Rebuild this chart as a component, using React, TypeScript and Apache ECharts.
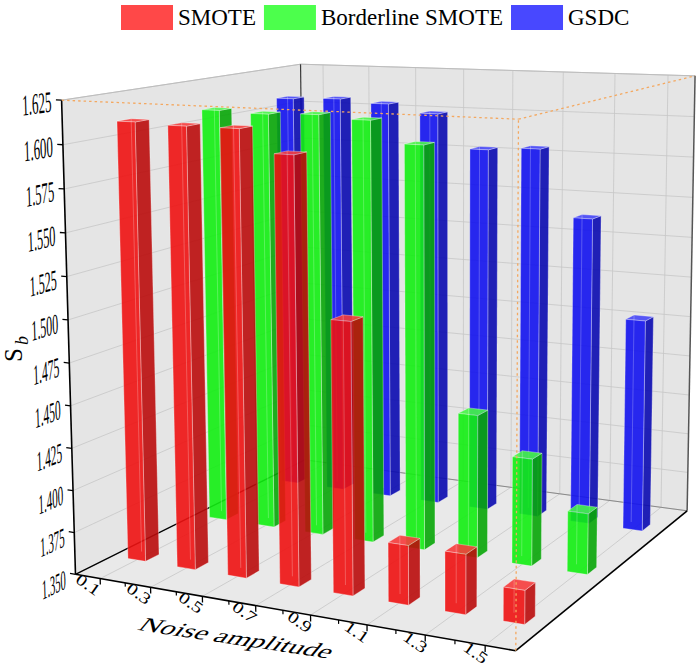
import React, { useEffect, useRef } from 'react';
import * as echarts from 'echarts';

// ---------------- data ----------------
const noiseAmplitudes = [0.1, 0.3, 0.5, 0.7, 0.9, 1.1, 1.3, 1.5];
const xTickLabels = ['0.1', '0.3', '0.5', '0.7', '0.9', '1.1', '1.3', '1.5'];
const xMinorTicks = [0.2, 0.4, 0.6, 0.8, 1.0, 1.2, 1.4];
const yTickValues = [1.35, 1.375, 1.4, 1.425, 1.45, 1.475, 1.5, 1.525, 1.55, 1.575, 1.6, 1.625];
const yTickLabels = ['1.350', '1.375', '1.400', '1.425', '1.450', '1.475', '1.500', '1.525', '1.550', '1.575', '1.600', '1.625'];
const seriesNames = ['SMOTE', 'Borderline SMOTE', 'GSDC'];
const smoteValues = [1.61, 1.609, 1.609, 1.596, 1.506, 1.384, 1.384, 1.369];
const borderlineValues = [1.608, 1.607, 1.608, 1.606, 1.593, 1.436, 1.414, 1.386];
const gsdcValues = [1.607, 1.608, 1.606, 1.601, 1.58, 1.582, 1.541, 1.481];
const seriesRows = [1, 2, 3];

// ---------------- layout ----------------
const X_RANGE = [0, 1.6];
const Y_RANGE = [1.35, 1.625];
const DEPTH_RANGE = [0.51, 3.49];
const BAR_WIDTH = 0.072;
const BAR_DEPTH = 0.053;
const FONT = "'Liberation Serif', 'Times New Roman', Times, serif";

const BOX_3D = [
  [0, 0, 0], [1, 0, 0], [0, 1, 0], [1, 1, 0],
  [0, 0, 1], [1, 0, 1], [0, 1, 1], [1, 1, 1],
];
const BOX_SCREEN = [
  [78, 578], [516, 649], [302, 457], [688, 512],
  [61, 99], [516, 118], [302, 65], [696, 77],
];

const LEGEND_COLORS = ['rgb(255,72,72)', 'rgb(76,255,76)', 'rgb(72,72,255)'];
const PALETTES = [
  { front: 'rgb(238,18,18)', side: 'rgb(186,12,12)', top: 'rgb(246,60,60)' },
  { front: 'rgb(18,238,18)', side: 'rgb(8,166,8)', top: 'rgb(70,246,70)' },
  { front: 'rgb(18,18,238)', side: 'rgb(10,10,176)', top: 'rgb(70,70,246)' },
];

function solveProjection(): number[] {
  const n = 11;
  const M: number[][] = Array.from({ length: n }, () => new Array(n + 1).fill(0));
  const add = (r: number[], b: number) => {
    for (let i = 0; i < n; i++) {
      for (let j = 0; j < n; j++) M[i][j] += r[i] * r[j];
      M[i][n] += r[i] * b;
    }
  };
  BOX_3D.forEach(([X, Y, Z], k) => {
    const [x, y] = BOX_SCREEN[k];
    add([X, Y, Z, 1, 0, 0, 0, 0, -x * X, -x * Y, -x * Z], x);
    add([0, 0, 0, 0, X, Y, Z, 1, -y * X, -y * Y, -y * Z], y);
  });
  for (let c = 0; c < n; c++) {
    let piv = c;
    for (let r = c + 1; r < n; r++) if (Math.abs(M[r][c]) > Math.abs(M[piv][c])) piv = r;
    const tmp = M[c]; M[c] = M[piv]; M[piv] = tmp;
    for (let r = 0; r < n; r++) {
      if (r === c) continue;
      const f = M[r][c] / M[c][c];
      for (let k = c; k <= n; k++) M[r][k] -= f * M[c][k];
    }
  }
  return M.map((row, i) => row[n] / row[i]);
}
const PM = solveProjection();

function proj(u: number, v: number, w: number): [number, number] {
  const d = PM[8] * u + PM[9] * v + PM[10] * w + 1;
  return [
    (PM[0] * u + PM[1] * v + PM[2] * w + PM[3]) / d,
    (PM[4] * u + PM[5] * v + PM[6] * w + PM[7]) / d,
  ];
}
function deriv(u: number, v: number, w: number, d: number[]): [number, number] {
  const e = 1e-4;
  const a = proj(u, v, w);
  const b = proj(u + d[0] * e, v + d[1] * e, w + d[2] * e);
  return [(b[0] - a[0]) / e, (b[1] - a[1]) / e];
}
function decompose(p: number[], ex: number[], ey: number[]) {
  const sx = Math.hypot(ex[0], ex[1]);
  const rot = Math.atan2(-ex[1], ex[0]);
  const c = Math.cos(rot);
  const s = Math.sin(rot);
  const u01 = c * ey[0] - s * ey[1];
  const sy = s * ey[0] + c * ey[1];
  return { x: p[0], y: p[1], rotation: rot, scaleX: sx, scaleY: sy, skewX: Math.atan2(u01, sy) };
}
function planeTransform(u: number, v: number, w: number, d1: number[], s1: number, d2: number[], s2: number) {
  const a = deriv(u, v, w, d1);
  const b = deriv(u, v, w, d2);
  return decompose(proj(u, v, w), [a[0] * s1, a[1] * s1], [b[0] * s2, b[1] * s2]);
}
const polyEl = (pts: number[][], style: any, z2 = 0) => ({
  type: 'polygon', z2, silent: true,
  shape: { points: pts.map((p) => proj(p[0], p[1], p[2])) },
  style,
});
const lineEl = (a: number[], b: number[], style: any, z2 = 0) => {
  const p = proj(a[0], a[1], a[2]);
  const q = proj(b[0], b[1], b[2]);
  return { type: 'line', z2, silent: true, shape: { x1: p[0], y1: p[1], x2: q[0], y2: q[1] }, style };
};
function toUW(params: any, api: any, x: number, val: number) {
  const cs = params.coordSys;
  const c = api.coord([x, val]);
  return [(c[0] - cs.x) / cs.width, (cs.y + cs.height - c[1]) / cs.height];
}
const textStyle = (text: string, size: number, align: string, vAlign: string, italic = false, lineHeight?: number) => ({
  text, fill: '#000', fontSize: size, fontFamily: FONT, fontStyle: italic ? 'italic' : 'normal',
  font: `${italic ? 'italic ' : ''}${size}px ${FONT}`,
  align, verticalAlign: vAlign, textAlign: align, textVerticalAlign: vAlign,
  ...(lineHeight ? { lineHeight } : {}),
});

function buildOption(): any {
  const yS1 = (0.44 * 1.55) / Math.hypot(...deriv(0, 0, 0.9, [0, 1, 0]));
  const yS2 = 1.5 / Math.hypot(...deriv(0, 0, 0.5, [0, 0, 1]));
  const depthNorm = (r: number) => (r - DEPTH_RANGE[0]) / (DEPTH_RANGE[1] - DEPTH_RANGE[0]);
  const normX = (x: number) => (x - X_RANGE[0]) / (X_RANGE[1] - X_RANGE[0]);
  const normY = (y: number) => (y - Y_RANGE[0]) / (Y_RANGE[1] - Y_RANGE[0]);
  const gridStyle = { stroke: '#c6c6c6', lineWidth: 0.8 };
  const valuesBySeries = [smoteValues, borderlineValues, gsdcValues];

  const barSeries = seriesNames.map((name, si) => ({
    type: 'custom',
    name,
    z: 4 - si,
    itemStyle: { color: LEGEND_COLORS[si] },
    data: valuesBySeries[si].map((v, i) => [noiseAmplitudes[i], v]),
    renderItem: (params: any, api: any) => {
      const [uc, w1] = toUW(params, api, api.value(0), api.value(1));
      const halfU = api.size([BAR_WIDTH, 0])[0] / params.coordSys.width / 2;
      const vc = depthNorm(seriesRows[si]);
      const u0 = uc - halfU, u1 = uc + halfU;
      const v0 = vc - BAR_DEPTH / 2, v1 = vc + BAR_DEPTH / 2;
      const pal = PALETTES[si];
      const z2 = params.dataIndex * 10;
      const edge = { stroke: 'rgba(255,255,255,0.5)', lineWidth: 0.7 };
      return {
        type: 'group',
        children: [
          polyEl([[u1, v0, 0], [u1, v1, 0], [u1, v1, w1], [u1, v0, w1]], { fill: pal.side, opacity: 0.9, ...edge }, z2),
          polyEl([[u0, v0, w1], [u1, v0, w1], [u1, v1, w1], [u0, v1, w1]], { fill: pal.top, opacity: 0.9, ...edge }, z2 + 1),
          polyEl([[u0, v0, 0], [u1, v0, 0], [u1, v0, w1], [u0, v0, w1]], { fill: pal.front, opacity: 0.9, ...edge }, z2 + 2),
          lineEl([u0, v1, 0], [u0, v1, w1], { stroke: 'rgba(255,255,255,0.3)', lineWidth: 0.8 }, z2 + 3),
        ],
      };
    },
  }));

  const wallsSeries = {
    type: 'custom', name: 'box', z: 1, silent: true,
    data: [[X_RANGE[0], Y_RANGE[0]]],
    renderItem: () => ({
      type: 'group',
      children: [
        polyEl([[0, 0, 0], [1, 0, 0], [1, 1, 0], [0, 1, 0]], { fill: '#e9e9e9' }, 0),
        polyEl([[0, 0, 0], [0, 1, 0], [0, 1, 1], [0, 0, 1]], { fill: '#e5e5e5' }, 0),
        polyEl([[0, 1, 0], [1, 1, 0], [1, 1, 1], [0, 1, 1]], { fill: '#e5e5e5' }, 0),
      ],
    }),
  };

  const yGridSeries = {
    type: 'custom', name: 'yGrid', z: 1, silent: true,
    data: yTickValues.map((v) => [X_RANGE[0], v]),
    renderItem: (params: any, api: any) => {
      const w = toUW(params, api, X_RANGE[0], api.value(1))[1];
      return {
        type: 'group',
        children: [
          lineEl([0, 0, w], [0, 1, w], gridStyle, 5),
          lineEl([0, 1, w], [1, 1, w], gridStyle, 5),
        ],
      };
    },
  };

  const xGridSeries = {
    type: 'custom', name: 'xGrid', z: 1, silent: true,
    data: noiseAmplitudes.map((x) => [x, Y_RANGE[0]]),
    renderItem: (params: any, api: any) => {
      const u = toUW(params, api, api.value(0), Y_RANGE[0])[0];
      return {
        type: 'group',
        children: [
          lineEl([u, 1, 0], [u, 1, 1], gridStyle, 5),
          lineEl([u, 0, 0], [u, 1, 0], gridStyle, 5),
        ],
      };
    },
  };

  const edgesSeries = {
    type: 'custom', name: 'edges', z: 1, silent: true,
    data: [[X_RANGE[0], Y_RANGE[0]]],
    renderItem: () => ({
      type: 'group',
      children: [
        lineEl([0, 0, 1], [0, 1, 1], { stroke: '#bdbdbd', lineWidth: 1 }, 8),
        lineEl([0, 1, 1], [1, 1, 1], { stroke: '#bdbdbd', lineWidth: 1 }, 8),
        lineEl([0, 1, 0], [1, 1, 0], { stroke: '#8a8a8a', lineWidth: 1 }, 8),
        lineEl([0, 1, 0], [0, 1, 1], { stroke: '#3a3a3a', lineWidth: 1.2 }, 8),
        lineEl([1, 1, 0], [1, 1, 1], { stroke: '#555', lineWidth: 1.5 }, 8),
        lineEl([0, 0, 0], [0, 1, 0], { stroke: '#000', lineWidth: 1.3 }, 9),
        lineEl([1, 0, 0], [1, 1, 0], { stroke: '#000', lineWidth: 1.6 }, 9),
        lineEl([0, 0, 0], [1, 0, 0], { stroke: '#000', lineWidth: 1.6 }, 9),
        lineEl([0, 0, 0], [0, 0, 1], { stroke: '#000', lineWidth: 1.6 }, 9),
      ],
    }),
  };

  const dotted = { stroke: '#f4a860', lineWidth: 1.3, lineDash: [2.5, 3] };
  const frameTopSeries = {
    type: 'custom', name: 'frameTop', z: 6, silent: true,
    data: [[X_RANGE[0], Y_RANGE[0]]],
    renderItem: () => ({
      type: 'group',
      children: [
        lineEl([0, 0, 1], [1, 0, 1], dotted),
        lineEl([1, 0, 1], [1, 1, 1], dotted),
        lineEl([1, 0, 0], [1, 0, 1], dotted),
      ],
    }),
  };

  const yTickSeries = {
    type: 'custom', name: 'yTicks', z: 6, silent: true,
    data: yTickValues.map((v) => [X_RANGE[0], v]),
    renderItem: (params: any, api: any) => {
      const w = toUW(params, api, X_RANGE[0], api.value(1))[1];
      return lineEl([0, 0, w], [-0.014, 0, w], { stroke: '#000', lineWidth: 1.3 });
    },
  };

  const xTickSeries = {
    type: 'custom', name: 'xTicks', z: 6, silent: true,
    data: noiseAmplitudes.map((x) => [x, Y_RANGE[0]]),
    renderItem: (params: any, api: any) => {
      const u = toUW(params, api, api.value(0), Y_RANGE[0])[0];
      return lineEl([u, 0, 0], [u, 0, -0.013], { stroke: '#000', lineWidth: 1.3 });
    },
  };

  const xMinorSeries = {
    type: 'custom', name: 'xMinor', z: 6, silent: true,
    data: xMinorTicks.map((x) => [x, Y_RANGE[0]]),
    renderItem: (params: any, api: any) => {
      const u = toUW(params, api, api.value(0), Y_RANGE[0])[0];
      return lineEl([u, 0, 0], [u, 0, -0.008], { stroke: '#000', lineWidth: 1.2 });
    },
  };

  // tick labels as graphic texts (positions from the same projection)
  const yLabelEls = yTickValues.map((val, i) => {
    const w = normY(val);
    const t = planeTransform(0, -0.035, w, [0, 1, 0], yS1 * (1 - 0.15 * (1 - w)), [0, 0, -1], yS2);
    return { type: 'text', z: 100, silent: true, ...t, style: textStyle(yTickLabels[i], 19, 'right', 'middle') };
  });
  const xRot = (-35 * Math.PI) / 180;
  const xLabelEls = noiseAmplitudes.map((x, i) => {
    const c = proj(normX(x), -0.044, 0);
    return {
      type: 'text', z: 100, silent: true, x: c[0], y: c[1], rotation: xRot, scaleX: 1.08, scaleY: 0.85,
      style: textStyle(xTickLabels[i], 19, 'center', 'middle', false, 13),
    };
  });

  const a = (8.5 * Math.PI) / 180;
  const titleT = decompose([237, 638], [1.05 * Math.cos(a), 1.05 * Math.sin(a)], [-0.545, 0.65]);

  return {
    animation: false,
    grid: { left: 0, top: 0, right: 0, bottom: 0, show: false },
    xAxis: { type: 'value', min: X_RANGE[0], max: X_RANGE[1], show: false },
    yAxis: { type: 'value', min: Y_RANGE[0], max: Y_RANGE[1], show: false },
    legend: {
      data: seriesNames,
      left: 121, top: 5, padding: 0,
      icon: 'rect', itemWidth: 52, itemHeight: 25, itemGap: 8,
      selectedMode: false,
      textStyle: { fontSize: 23, fontFamily: FONT, color: '#000' },
    },
    graphic: [
      ...yLabelEls,
      ...xLabelEls,
      { type: 'text', z: 100, silent: true, ...titleT, style: textStyle('Noise amplitude', 28, 'center', 'middle') },
      {
        type: 'group', x: 13, y: 355, rotation: Math.PI / 2, silent: true,
        children: [
          { type: 'text', x: 0, y: 0, style: textStyle('S', 25, 'center', 'middle') },
          { type: 'text', x: 14.5, y: 9, style: textStyle('b', 18, 'center', 'middle', true) },
        ],
      },
    ],
    series: [
      wallsSeries, yGridSeries, xGridSeries, edgesSeries,
      ...barSeries,
      frameTopSeries, yTickSeries, xTickSeries, xMinorSeries,
    ],
  };
}

export default function App() {
  const ref = useRef<HTMLDivElement>(null);
  useEffect(() => {
    const chart = echarts.init(ref.current as HTMLDivElement, null, { renderer: 'svg' });
    chart.setOption(buildOption());
    return () => chart.dispose();
  }, []);
  return <div ref={ref} style={{ position: 'absolute', left: 0, top: 0, width: 699, height: 666 }} />;
}
